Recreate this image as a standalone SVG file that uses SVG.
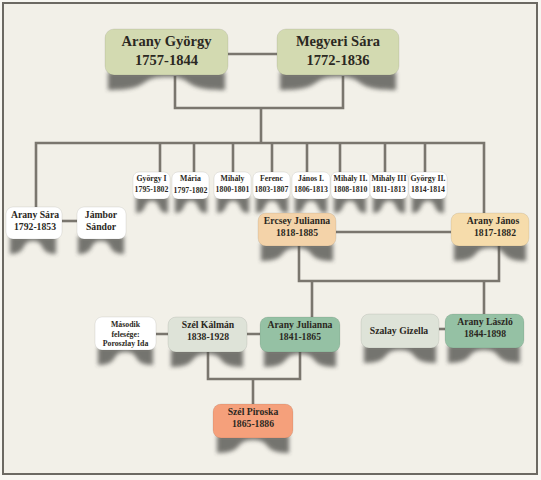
<svg xmlns="http://www.w3.org/2000/svg" xmlns:xlink="http://www.w3.org/1999/xlink" width="541" height="480" viewBox="0 0 541 480">
<style>
.t{font-family:"Liberation Serif","Times New Roman",serif;font-weight:bold;fill:#2b2822;text-anchor:middle}
.big{font-size:14.5px}
.med{font-size:9.7px}
.sm{font-size:7.8px}
.line{fill:none;stroke:#7a766e;stroke-width:2.6}
.shadow{fill:#4c4b47;opacity:0.75;filter:url(#blur)}
.box{stroke:rgba(0,0,0,0.08);stroke-width:1}
.white{fill:#ffffff}
.olive{fill:#d3dab1}
.peach{fill:#f4d3a9}
.sand{fill:#f6dcab}
.grey{fill:#dee3d8}
.green{fill:#95c1a4}
.salmon{fill:#f5a07b}
</style>
<defs>
<filter id="blur" x="-20%" y="-60%" width="140%" height="220%"><feGaussianBlur stdDeviation="2.2"/></filter>
<path id="shSmall" d="M3,-3 L3,14 C15,14 9.5,2 19,2 C28.5,2 23,14 35,14 L35,-3 Z"/>
<path id="shMed" d="M3,-3 L3,15 C31,15 19.5,2 39,2 C58.5,2 47,15 75,15 L75,-3 Z"/>
<path id="shMini" d="M3,-3 L3,15 C21,15 13,2 26,2 C39,2 31,15 49,15 L49,-3 Z"/>
</defs>
<rect x="0" y="0" width="541" height="480" fill="#f7f6f1"/>
<rect x="3" y="3" width="534" height="471" fill="#f2f0e8" stroke="#6c6962" stroke-width="2"/>

<g id="connectors">
<path class="line" d="M228,54 H277"/>
<path class="line" d="M175,76 V108 H343 V76"/>
<path class="line" d="M261,108 V143"/>
<path class="line" d="M36,207 V143 H484 V213"/>
<path class="line" d="M160,143 V172 M194,143 V172 M233,143 V172 M272,143 V172 M307,143 V172 M340,143 V172 M385,143 V172 M425,143 V172"/>
<path class="line" d="M60,221 H77"/>
<path class="line" d="M336,232 H451"/>
<path class="line" d="M299,246 V281 H499 V246"/>
<path class="line" d="M312,281 V317 M484,281 V314"/>
<path class="line" d="M156,334 H168 M247,334 H260"/>
<path class="line" d="M439,329 H445"/>
<path class="line" d="M208,352 V379 H300 V352"/>
<path class="line" d="M253,379 V404"/>
</g>

<g id="arany-gyorgy">
<path class="shadow" d="M108,72 L108,90 C154,90 136,77 166.5,77 C197,77 179,90 225,90 L225,72 Z"/>
<rect class="box olive" x="105" y="29" width="123" height="46" rx="9"/>
<text class="t big" x="166.5" y="46">Arany György</text>
<text class="t big" x="166.5" y="65">1757-1844</text>
</g>
<g id="megyeri-sara">
<path class="shadow" d="M280,72 L280,90 C326,90 307.5,77 338,77 C368.5,77 350,90 396,90 L396,72 Z"/>
<rect class="box olive" x="277" y="29" width="122" height="46" rx="9"/>
<text class="t big" x="338" y="46">Megyeri Sára</text>
<text class="t big" x="338" y="65">1772-1836</text>
</g>

<g id="gyorgy-i">
<use href="#shSmall" class="shadow" x="133" y="199"/>
<rect class="box white" x="133" y="172" width="37" height="27" rx="6"/>
<text class="t sm" x="151.5" y="181">György I</text>
<text class="t sm" x="151.5" y="192">1795-1802</text>
</g>
<g id="maria">
<use href="#shSmall" class="shadow" x="172" y="199"/>
<rect class="box white" x="172" y="172" width="37" height="27" rx="6"/>
<text class="t sm" x="190.5" y="181">Mária</text>
<text class="t sm" x="190.5" y="193">1797-1802</text>
</g>
<g id="mihaly">
<use href="#shSmall" class="shadow" x="214" y="199"/>
<rect class="box white" x="214" y="172" width="37" height="27" rx="6"/>
<text class="t sm" x="232.5" y="181">Mihály</text>
<text class="t sm" x="232.5" y="192">1800-1801</text>
</g>
<g id="ferenc">
<use href="#shSmall" class="shadow" x="253" y="199"/>
<rect class="box white" x="253" y="172" width="37" height="27" rx="6"/>
<text class="t sm" x="271.5" y="181">Ferenc</text>
<text class="t sm" x="271.5" y="192">1803-1807</text>
</g>
<g id="janos-i">
<use href="#shSmall" class="shadow" x="292" y="199"/>
<rect class="box white" x="292" y="172" width="38" height="27" rx="6"/>
<text class="t sm" x="311" y="181">János I.</text>
<text class="t sm" x="311" y="192">1806-1813</text>
</g>
<g id="mihaly-ii">
<use href="#shSmall" class="shadow" x="331" y="199"/>
<rect class="box white" x="331" y="172" width="39" height="27" rx="6"/>
<text class="t sm" x="350.5" y="181">Mihály II.</text>
<text class="t sm" x="350.5" y="192">1808-1810</text>
</g>
<g id="mihaly-iii">
<use href="#shSmall" class="shadow" x="370" y="199"/>
<rect class="box white" x="370" y="172" width="38" height="27" rx="6"/>
<text class="t sm" x="389" y="181">Mihály III</text>
<text class="t sm" x="389" y="192">1811-1813</text>
</g>
<g id="gyorgy-ii">
<use href="#shSmall" class="shadow" x="409" y="199"/>
<rect class="box white" x="409" y="172" width="38" height="27" rx="6"/>
<text class="t sm" x="428" y="181">György II.</text>
<text class="t sm" x="428" y="192">1814-1814</text>
</g>

<g id="arany-sara">
<use href="#shMini" class="shadow" x="7" y="239"/>
<rect class="box white" x="6" y="207" width="56" height="32" rx="7"/>
<text class="t med" x="35" y="218">Arany Sára</text>
<text class="t med" x="35" y="230">1792-1853</text>
</g>
<g id="jambor-sandor">
<use href="#shMini" class="shadow" x="75" y="239"/>
<rect class="box white" x="77" y="207" width="49" height="32" rx="7"/>
<text class="t med" x="101" y="218">Jámbor</text>
<text class="t med" x="101" y="230">Sándor</text>
</g>

<g id="ercsey-julianna">
<use href="#shMed" class="shadow" x="258" y="246"/>
<rect class="box peach" x="258" y="213" width="78" height="33" rx="8"/>
<text class="t med" x="297" y="224">Ercsey Julianna</text>
<text class="t med" x="297" y="236">1818-1885</text>
</g>
<g id="arany-janos">
<use href="#shMed" class="shadow" x="451" y="246"/>
<rect class="box sand" x="451" y="213" width="78" height="33" rx="8"/>
<text class="t med" x="493" y="224">Arany János</text>
<text class="t med" x="495" y="236">1817-1882</text>
</g>

<g id="poroszlay-ida">
<path class="shadow" d="M98,347 L98,365 C120,365 110,352 125.5,352 C141,352 131,365 153,365 L153,347 Z"/>
<rect class="box white" x="95" y="317" width="61" height="33" rx="7"/>
<text class="t sm" x="125.5" y="327">Második</text>
<text class="t sm" x="125.5" y="337">felesége:</text>
<text class="t sm" x="125.5" y="346">Poroszlay Ida</text>
</g>
<g id="szel-kalman">
<use href="#shMed" class="shadow" x="168" y="352"/>
<rect class="box grey" x="168" y="317" width="79" height="35" rx="8"/>
<text class="t med" x="208" y="328">Szél Kálmán</text>
<text class="t med" x="208" y="340">1838-1928</text>
</g>
<g id="arany-julianna">
<use href="#shMed" class="shadow" x="261" y="352"/>
<rect class="box green" x="260" y="317" width="80" height="35" rx="8"/>
<text class="t med" x="300" y="328">Arany Julianna</text>
<text class="t med" x="300" y="340">1841-1865</text>
</g>
<g id="szalay-gizella">
<use href="#shMed" class="shadow" x="361" y="348"/>
<rect class="box grey" x="361" y="314" width="78" height="34" rx="8"/>
<text class="t med" x="399" y="334">Szalay Gizella</text>
</g>
<g id="arany-laszlo">
<use href="#shMed" class="shadow" x="445" y="348"/>
<rect class="box green" x="445" y="314" width="79" height="34" rx="8"/>
<text class="t med" x="485" y="325">Arany László</text>
<text class="t med" x="485" y="337">1844-1898</text>
</g>

<g id="szel-piroska">
<use href="#shMed" class="shadow" x="214" y="438"/>
<rect class="box salmon" x="213" y="404" width="80" height="34" rx="8"/>
<text class="t med" x="253" y="415">Szél Piroska</text>
<text class="t med" x="253" y="427">1865-1886</text>
</g>
</svg>
